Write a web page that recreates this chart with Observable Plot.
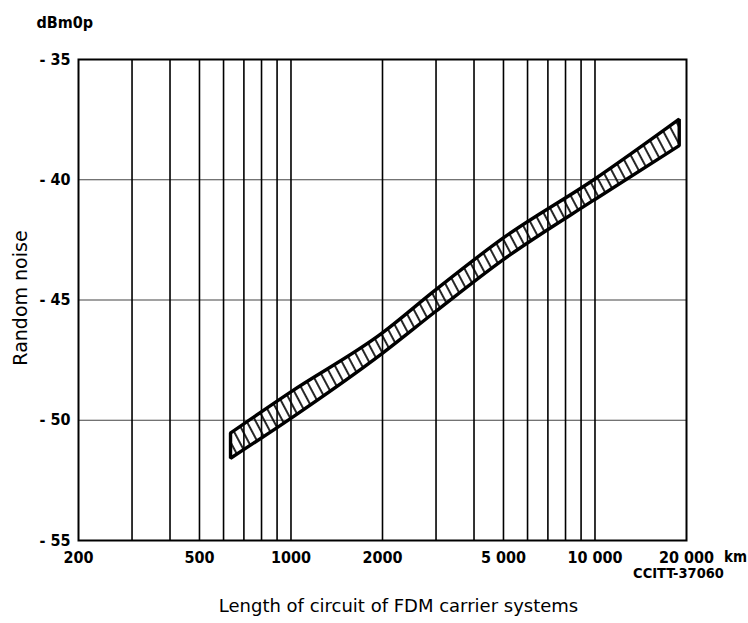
<!DOCTYPE html>
<html><head><meta charset="utf-8">
<script src="https://cdn.jsdelivr.net/npm/d3@7"></script>
<script src="https://cdn.jsdelivr.net/npm/@observablehq/plot@0.6"></script>
<style>body{margin:0;background:#fff} svg{display:block}</style>
</head><body><div id="chart"></div>
<script>
// Band (hatched area): km, upper limit, lower limit (dBm0p)
const bandKm    = [635, 1000, 2000, 3000, 5000, 10000, 19000];
const bandUpper = [-50.55, -48.85, -46.4, -44.6, -42.45, -40.0, -37.5];
const bandLower = [-51.6, -49.95, -47.25, -45.5, -43.35, -40.85, -38.6];

const gridKm = [300, 400, 500, 600, 700, 800, 900, 1000, 2000, 3000, 4000, 5000, 6000, 7000, 8000, 9000, 10000];
const gridDb = [-40, -45, -50];
const xTicks = [200, 500, 1000, 2000, 5000, 10000, 20000];
const xTickLabels = ["200", "500", "1000", "2000", "5 000", "10 000", "20 000"];
const yTicks = [-35, -40, -45, -50, -55];
const yTickLabels = ["- 35", "- 40", "- 45", "- 50", "- 55"];

const band = bandKm.map((km, i) => ({km, upper: bandUpper[i], lower: bandLower[i]}));
const xTickData = xTicks.map((v, i) => ({v, label: xTickLabels[i]}));
const yTickData = yTicks.map((v, i) => ({v, label: yTickLabels[i]}));

const tickFont = "'DejaVu Sans Condensed', 'DejaVu Sans', sans-serif";
const chart = Plot.plot({
  width: 748, height: 623,
  marginLeft: 78, marginRight: 62, marginTop: 59, marginBottom: 83,
  style: {fontFamily: "'DejaVu Sans', sans-serif", background: "#fff", color: "#000", fontSize: "13px"},
  x: {type: "log", domain: [200, 20000], axis: null},
  y: {domain: [-55, -35], axis: null},
  marks: [
    Plot.ruleY(gridDb, {stroke: "#444", strokeWidth: 1.2}),
    Plot.ruleX(gridKm, {stroke: "#000", strokeWidth: 1.6}),
    Plot.areaY(band, {x: "km", y1: "lower", y2: "upper", curve: "monotone-x", fill: "url(#hatch)", stroke: "#000", strokeWidth: 3.4, strokeLinejoin: "miter"}),
    Plot.frame({stroke: "#000", strokeWidth: 2}),
    Plot.text(xTickData, {x: "v", text: "label", frameAnchor: "bottom", lineAnchor: "top", dy: 11, fontFamily: tickFont, fontWeight: "bold", fontSize: 16}),
    Plot.text(yTickData, {y: "v", text: "label", frameAnchor: "left", textAnchor: "end", dx: -8, fontFamily: tickFont, fontWeight: "bold", fontSize: 16}),
    Plot.text(["dBm0p"], {frameAnchor: "top-left", textAnchor: "start", lineAnchor: "bottom", dx: -42, dy: -32, fontFamily: tickFont, fontSize: 16, fontWeight: "bold"}),
    Plot.text(["Random noise"], {frameAnchor: "left", textAnchor: "middle", rotate: -90, dx: -58, dy: -2, fontSize: 19}),
    Plot.text(["km"], {frameAnchor: "bottom-right", textAnchor: "middle", lineAnchor: "top", dx: 49, dy: 11, fontSize: 15, fontWeight: "bold", fontFamily: tickFont}),
    Plot.text(["CCITT-37060"], {frameAnchor: "bottom-right", textAnchor: "middle", lineAnchor: "middle", dx: -8, dy: 33, fontSize: 14.5, fontWeight: "bold", fontFamily: tickFont}),
    Plot.text(["Length of circuit of FDM carrier systems"], {frameAnchor: "bottom", textAnchor: "middle", lineAnchor: "middle", dx: 16, dy: 66, fontSize: 18})
  ]
});

const ns = "http://www.w3.org/2000/svg";
const defs = document.createElementNS(ns, "defs");
defs.innerHTML = '<pattern id="hatch" patternUnits="userSpaceOnUse" width="8" height="8" patternTransform="rotate(-28)">' +
  '<line x1="4" y1="-1" x2="4" y2="9" stroke="#000" stroke-width="1.7"/></pattern>';
chart.insertBefore(defs, chart.firstChild);
document.getElementById("chart").appendChild(chart);
</script></body></html>
